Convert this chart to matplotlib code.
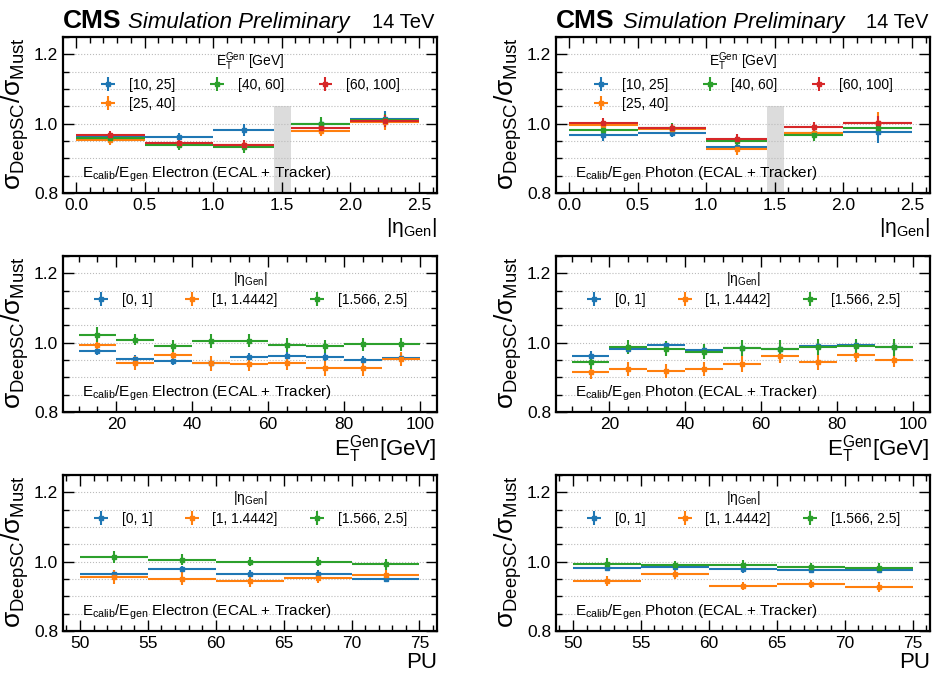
import numpy as np
import matplotlib
matplotlib.use("Agg")
import matplotlib.pyplot as plt
from matplotlib.ticker import MultipleLocator, FixedLocator

plt.rcParams['font.family'] = ['Liberation Sans', 'DejaVu Sans']
plt.rcParams['mathtext.fontset'] = 'custom'
plt.rcParams['mathtext.rm'] = 'Liberation Sans'
plt.rcParams['mathtext.it'] = 'Liberation Sans:italic'
plt.rcParams['mathtext.bf'] = 'Liberation Sans:bold'

# ---------------- data ----------------
eta_bins = [(0.0, 0.5), (0.5, 1.0), (1.0, 1.4442), (1.566, 2.0), (2.0, 2.5)]
gap_range = [1.4442, 1.566]
gap_top = 1.05
et_labels = ["[10, 25]", "[25, 40]", "[40, 60]", "[60, 100]"]

ele_eta = {
    "[10, 25]": [0.962, 0.961, 0.982, 0.998, 1.012],
    "[25, 40]": [0.952, 0.940, 0.938, 0.979, 1.004],
    "[40, 60]": [0.960, 0.937, 0.932, 1.000, 1.010],
    "[60, 100]": [0.968, 0.944, 0.939, 0.986, 1.008],
}
ele_eta_err = {
    "[10, 25]": [0.014, 0.013, 0.018, 0.016, 0.024],
    "[25, 40]": [0.015, 0.013, 0.016, 0.016, 0.022],
    "[40, 60]": [0.012, 0.013, 0.016, 0.018, 0.018],
    "[60, 100]": [0.012, 0.012, 0.014, 0.014, 0.018],
}
pho_eta = {
    "[10, 25]": [0.967, 0.974, 0.933, 0.973, 0.975],
    "[25, 40]": [0.995, 0.984, 0.927, 0.974, 1.002],
    "[40, 60]": [0.983, 0.986, 0.949, 0.967, 0.988],
    "[60, 100]": [1.003, 0.986, 0.957, 0.990, 1.001],
}
pho_eta_err = {
    "[10, 25]": [0.016, 0.013, 0.015, 0.016, 0.030],
    "[25, 40]": [0.015, 0.016, 0.016, 0.016, 0.032],
    "[40, 60]": [0.014, 0.015, 0.016, 0.018, 0.022],
    "[60, 100]": [0.014, 0.012, 0.012, 0.016, 0.020],
}

et_edges = [10, 20, 30, 40, 50, 60, 70, 80, 90, 100]
eta_labels = ["[0, 1]", "[1, 1.4442]", "[1.566, 2.5]"]

ele_et = {
    "[0, 1]": [0.977, 0.954, 0.947, 0.941, 0.958, 0.961, 0.959, 0.950, 0.957],
    "[1, 1.4442]": [0.994, 0.942, 0.965, 0.940, 0.939, 0.942, 0.926, 0.926, 0.953],
    "[1.566, 2.5]": [1.023, 1.008, 0.990, 1.004, 1.006, 0.994, 0.989, 0.995, 0.995],
}
ele_et_err = {
    "[0, 1]": [0.012, 0.010, 0.012, 0.012, 0.012, 0.012, 0.012, 0.012, 0.012],
    "[1, 1.4442]": [0.018, 0.020, 0.018, 0.022, 0.022, 0.022, 0.022, 0.022, 0.020],
    "[1.566, 2.5]": [0.022, 0.016, 0.018, 0.020, 0.020, 0.020, 0.018, 0.018, 0.018],
}
pho_et = {
    "[0, 1]": [0.961, 0.983, 0.994, 0.979, 0.985, 0.982, 0.990, 0.992, 0.986],
    "[1, 1.4442]": [0.916, 0.925, 0.918, 0.923, 0.938, 0.960, 0.943, 0.963, 0.951],
    "[1.566, 2.5]": [0.945, 0.987, 0.982, 0.974, 0.984, 0.983, 0.987, 0.989, 0.986],
}
pho_et_err = {
    "[0, 1]": [0.014, 0.012, 0.012, 0.012, 0.012, 0.012, 0.012, 0.012, 0.012],
    "[1, 1.4442]": [0.020, 0.020, 0.020, 0.020, 0.022, 0.020, 0.022, 0.020, 0.020],
    "[1.566, 2.5]": [0.022, 0.020, 0.022, 0.022, 0.024, 0.024, 0.022, 0.022, 0.024],
}

pu_edges = [50, 55, 60, 65, 70, 75]
ele_pu = {
    "[0, 1]": [0.965, 0.978, 0.965, 0.965, 0.950],
    "[1, 1.4442]": [0.956, 0.951, 0.945, 0.953, 0.960],
    "[1.566, 2.5]": [1.013, 1.005, 1.000, 1.000, 0.992],
}
ele_pu_err = {
    "[0, 1]": [0.010, 0.010, 0.010, 0.010, 0.010],
    "[1, 1.4442]": [0.020, 0.018, 0.018, 0.016, 0.016],
    "[1.566, 2.5]": [0.018, 0.016, 0.014, 0.014, 0.016],
}
pho_pu = {
    "[0, 1]": [0.982, 0.985, 0.978, 0.977, 0.976],
    "[1, 1.4442]": [0.944, 0.964, 0.930, 0.935, 0.926],
    "[1.566, 2.5]": [0.994, 0.989, 0.990, 0.985, 0.983],
}
pho_pu_err = {
    "[0, 1]": [0.010, 0.010, 0.010, 0.010, 0.010],
    "[1, 1.4442]": [0.014, 0.014, 0.012, 0.012, 0.014],
    "[1.566, 2.5]": [0.016, 0.014, 0.014, 0.012, 0.014],
}

colors = ["#1f77b4", "#ff7f0e", "#2ca02c", "#d62728"]

# ---------------- figure ----------------
fig = plt.figure(figsize=(9.32, 6.73), dpi=100)
lefts = [0.0676, 0.5966]
width = 0.401
bottoms = [0.7132, 0.3878, 0.0624]
height = 0.232

axes = [[fig.add_axes([l, b, width, height]) for l in lefts] for b in bottoms]

ylabel = r"σ$_{\mathrm{DeepSC}}$/σ$_{\mathrm{Must}}$"
eta_title = r"|η$_{\mathrm{Gen}}$|"


def draw(ax, bins, vals, errs, labels, title, colspace, anchor_y):
    for i, lab in enumerate(labels):
        lo = np.array([b[0] for b in bins])
        hi = np.array([b[1] for b in bins])
        c = (lo + hi) / 2
        ax.errorbar(c, vals[lab], xerr=[c - lo, hi - c], yerr=errs[lab],
                    fmt='s', ms=2.6, color=colors[i], elinewidth=1.5,
                    capsize=0, label=lab)
    ax.legend(loc='upper center', ncol=3, frameon=False, title=title,
              fontsize=10, title_fontsize=10, bbox_to_anchor=(0.5, anchor_y),
              handlelength=1.2, handletextpad=0.9, columnspacing=colspace,
              labelspacing=0.35, borderpad=0.1)


def style(ax, xlim, xmaj, xmin):
    ax.set_ylim(0.8, 1.25)
    ax.set_xlim(*xlim)
    ax.yaxis.set_major_locator(FixedLocator([0.8, 1.0, 1.2]))
    ax.yaxis.set_minor_locator(MultipleLocator(0.05))
    ax.xaxis.set_major_locator(MultipleLocator(xmaj))
    ax.xaxis.set_minor_locator(MultipleLocator(xmin))
    ax.tick_params(which='both', direction='in', top=True, right=True, labelsize=12.5)
    ax.tick_params(which='major', length=8, width=1)
    ax.tick_params(which='minor', length=4, width=1)
    for s in ax.spines.values():
        s.set_linewidth(1.6)
    ax.grid(axis='y', which='both', linestyle=':', color='#bbbbbb', linewidth=0.8)
    ax.set_axisbelow(True)
    ax.set_ylabel(ylabel, fontsize=19, loc='top', labelpad=2)


def bins_from_edges(edges):
    return [(edges[i], edges[i + 1]) for i in range(len(edges) - 1)]


texts = [r"E$_{\mathrm{calib}}$/E$_{\mathrm{gen}}$ Electron (ECAL + Tracker)",
         r"E$_{\mathrm{calib}}$/E$_{\mathrm{gen}}$ Photon (ECAL + Tracker)"]

# row 0: eta
for j, (vals, errs) in enumerate([(ele_eta, ele_eta_err), (pho_eta, pho_eta_err)]):
    ax = axes[0][j]
    ax.fill_between(gap_range, 0.8, gap_top, color='#dcdcdc', zorder=0.5, lw=0)
    draw(ax, eta_bins, vals, errs, et_labels,
         r"E$_{\mathrm{T}}^{\mathrm{Gen}}$ [GeV]", 2.4, 0.965)
    style(ax, (-0.095, 2.63), 0.5, 0.1)
    ax.set_xlabel(r"|η$_{\mathrm{Gen}}$|", fontsize=15, loc='right', labelpad=2)
    ax.text(0.05, 0.1, texts[j], transform=ax.transAxes, fontsize=11)
    ax.text(0.0, 1.06, "CMS", transform=ax.transAxes, fontsize=19,
            fontweight='bold', va='baseline', ha='left')
    ax.text(0.173 if j == 0 else 0.178, 1.06, "Simulation Preliminary",
            transform=ax.transAxes, fontsize=16, style='italic',
            va='baseline', ha='left')
    ax.text(0.995, 1.06, "14 TeV", transform=ax.transAxes, fontsize=14.5,
            va='baseline', ha='right')

# row 1: ET
for j, (vals, errs) in enumerate([(ele_et, ele_et_err), (pho_et, pho_et_err)]):
    ax = axes[1][j]
    draw(ax, bins_from_edges(et_edges), vals, errs, eta_labels, eta_title, 2.2, 0.965)
    style(ax, (5.9, 104.5), 20, 5)
    ax.set_xlabel(r"E$_{\mathrm{T}}^{\mathrm{Gen}}$[GeV]", fontsize=16, loc='right',
                  labelpad=1)
    ax.text(0.05, 0.1, texts[j], transform=ax.transAxes, fontsize=11)

# row 2: PU
for j, (vals, errs) in enumerate([(ele_pu, ele_pu_err), (pho_pu, pho_pu_err)]):
    ax = axes[2][j]
    draw(ax, bins_from_edges(pu_edges), vals, errs, eta_labels, eta_title, 2.2, 0.965)
    style(ax, (48.75, 76.27), 5, 1)
    ax.set_xlabel("PU", fontsize=16, loc='right', labelpad=1)
    ax.text(0.05, 0.1, texts[j], transform=ax.transAxes, fontsize=11)

fig.savefig("out.png", dpi=100)
